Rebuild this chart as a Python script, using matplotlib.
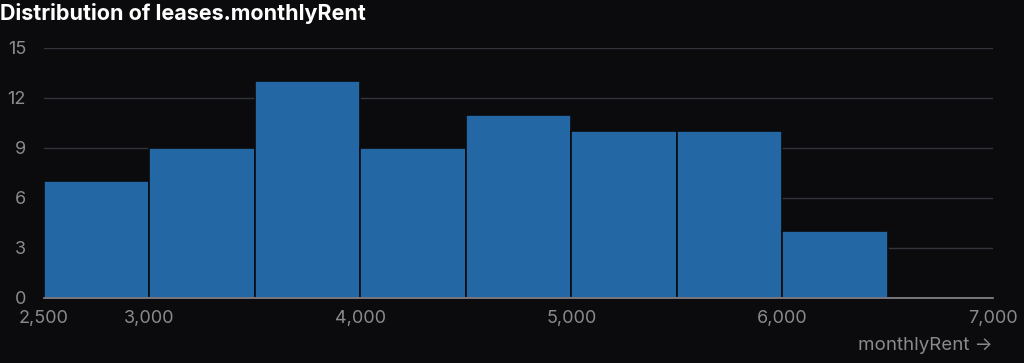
import matplotlib
matplotlib.use("Agg")
import matplotlib.pyplot as plt
import numpy as np

# histogram bins (monthlyRent) and counts
bin_edges = [2500, 3000, 3500, 4000, 4500, 5000, 5500, 6000, 6500]
counts = [7, 9, 13, 9, 11, 10, 10, 4]
x_ticks = [2500, 3000, 4000, 5000, 6000, 7000]
y_ticks = [0, 3, 6, 9, 12, 15]

bg = "#0b0b0e"
plt.rcParams['font.family'] = ['Inter', 'DejaVu Sans']

fig = plt.figure(figsize=(10.24, 3.63), dpi=100, facecolor=bg)
ax = fig.add_axes([44/1024, 1-298/363, (993-44)/1024, 250/363], facecolor=bg)

lefts = np.array(bin_edges[:-1])
widths = np.diff(bin_edges)
ax.bar(lefts, counts, width=widths, align='edge', color="#2368a4",
       edgecolor=bg, linewidth=1.2, zorder=2)

ax.set_xlim(2500, 7000)
ax.set_ylim(0, 15)
ax.set_yticks(y_ticks)
ax.set_xticks(x_ticks)
ax.set_xticklabels([f"{v:,}" for v in x_ticks])
ax.grid(axis='y', color="#33343a", linewidth=1, zorder=0)
for s in ['top', 'right', 'left']:
    ax.spines[s].set_visible(False)
ax.spines['bottom'].set_color("#8a8a8e")
ax.spines['bottom'].set_linewidth(1.2)
ax.spines['bottom'].set_zorder(3)
ax.tick_params(axis='both', length=0, colors="#8a8a8e", labelsize=13)
ax.tick_params(axis='x', pad=9)
ax.tick_params(axis='y', pad=13)

fig.text(0.0, 1-14/363, "Distribution of leases.monthlyRent", color="white",
         fontsize=15.5, fontweight='bold', va='center', ha='left')
fig.text(993/1024, 1-345/363, "monthlyRent \u2192", color="#8a8a8e",
         fontsize=13.5, va='center', ha='right', family=['Inter', 'DejaVu Sans'])

fig.savefig("out.png", dpi=100, facecolor=bg)
